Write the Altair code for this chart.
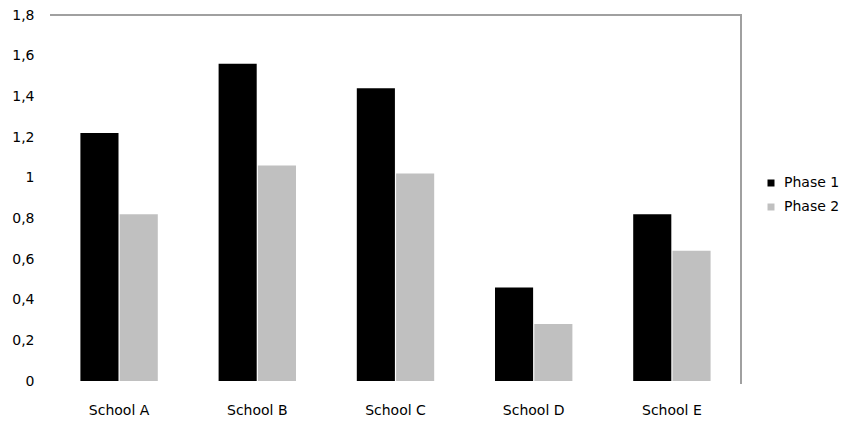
import altair as alt
import pandas as pd

# Chart values
schools = ["School A", "School B", "School C", "School D", "School E"]
phase_1 = [1.22, 1.56, 1.44, 0.46, 0.82]
phase_2 = [0.82, 1.06, 1.02, 0.28, 0.64]
phases = ["Phase 1", "Phase 2"]
y_ticks = [0, 0.2, 0.4, 0.6, 0.8, 1, 1.2, 1.4, 1.6, 1.8]

rows = []
for s, a, b in zip(schools, phase_1, phase_2):
    rows.append({"school": s, "phase": "Phase 1", "value": a})
    rows.append({"school": s, "phase": "Phase 2", "value": b})
df = pd.DataFrame(rows)

W, H = 691, 366
FONT = "DejaVu Sans"

bars = alt.Chart(df).mark_bar().encode(
    x=alt.X(
        "school:N",
        sort=schools,
        scale=alt.Scale(paddingInner=0.44, paddingOuter=0.22),
        axis=alt.Axis(
            title=None, domain=False, ticks=False, labelAngle=0,
            labelFont=FONT, labelFontSize=14, labelColor="#000000",
            labelPadding=29, labelBaseline="middle",
        ),
    ),
    xOffset=alt.XOffset("phase:N", sort=phases, scale=alt.Scale(paddingInner=0.03)),
    y=alt.Y(
        "value:Q",
        scale=alt.Scale(domain=[0, 1.8], nice=False),
        axis=alt.Axis(
            title=None, domain=False, ticks=False, grid=False,
            values=y_ticks,
            labelExpr="replace(toString(datum.value), '.', ',')",
            labelFont=FONT, labelFontSize=14, labelColor="#000000",
            labelPadding=16,
        ),
    ),
    color=alt.Color(
        "phase:N",
        sort=phases,
        scale=alt.Scale(domain=phases, range=["#000000", "#c0c0c0"]),
        legend=alt.Legend(
            title=None, orient="none", legendX=714, legendY=161,
            symbolType="square", symbolSize=49, symbolStrokeWidth=0,
            labelFont=FONT, labelFontSize=14, labelColor="#000000",
            labelOffset=6, rowPadding=10, padding=0,
        ),
    ),
)

one = alt.Data(values=[{"k": 0}])

top_edge = alt.Chart(one).mark_rule(color="#a0a0a0", strokeWidth=2).encode(
    x=alt.value(0), x2=alt.value(W + 1), y=alt.value(0)
)
right_edge = alt.Chart(one).mark_rule(color="#a0a0a0", strokeWidth=2).encode(
    x=alt.value(W), y=alt.value(0), y2=alt.value(H + 3)
)

chart = (
    alt.layer(bars, top_edge, right_edge)
    .properties(
        width=W,
        height=H,
        autosize=alt.AutoSizeParams(type="none"),
        padding={"left": 50, "top": 15, "right": 106, "bottom": 40},
        background="#ffffff",
    )
    .configure_view(stroke=None)
)

chart.save("out.html", embed_options={"renderer": "svg", "actions": False})
